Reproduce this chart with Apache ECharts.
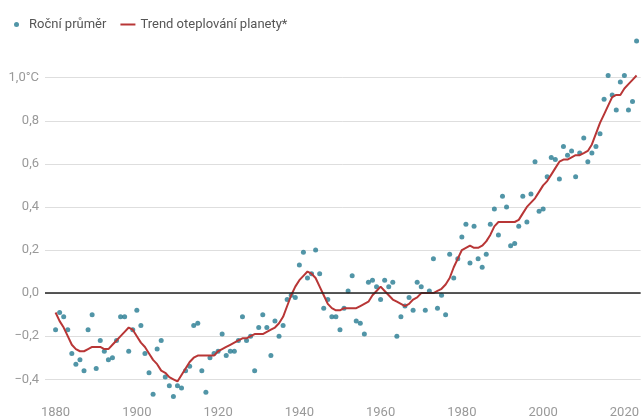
<!DOCTYPE html>
<html>
<head>
<meta charset="utf-8">
<script src="https://cdn.jsdelivr.net/npm/echarts@6/dist/echarts.min.js"></script>
<style>
  html, body { margin: 0; padding: 0; background: #fff; }
  #chart { width: 642px; height: 420px; }
</style>
</head>
<body>
<div id="chart"></div>
<script>
// years 1880..2023
const years = [];
for (let y = 1880; y <= 2023; y++) years.push(y);

// Roční průměr (annual mean anomaly, °C)
const annual = [
  -0.17, -0.09, -0.11, -0.17, -0.28, -0.33, -0.31, -0.36, -0.17, -0.10,
  -0.35, -0.22, -0.27, -0.31, -0.30, -0.22, -0.11, -0.11, -0.27, -0.17,
  -0.08, -0.15, -0.28, -0.37, -0.47, -0.26, -0.22, -0.39, -0.43, -0.48,
  -0.43, -0.44, -0.36, -0.34, -0.15, -0.14, -0.36, -0.46, -0.30, -0.28,
  -0.27, -0.19, -0.29, -0.27, -0.27, -0.22, -0.11, -0.22, -0.20, -0.36,
  -0.16, -0.10, -0.16, -0.29, -0.13, -0.20, -0.15, -0.03, -0.01, -0.02,
  0.13, 0.19, 0.07, 0.09, 0.20, 0.09, -0.07, -0.03, -0.11, -0.11,
  -0.17, -0.07, 0.01, 0.08, -0.13, -0.14, -0.19, 0.05, 0.06, 0.03,
  -0.03, 0.06, 0.03, 0.05, -0.20, -0.11, -0.06, -0.02, -0.08, 0.05,
  0.03, -0.08, 0.01, 0.16, -0.07, -0.01, -0.10, 0.18, 0.07, 0.16,
  0.26, 0.32, 0.14, 0.31, 0.16, 0.12, 0.18, 0.32, 0.39, 0.27,
  0.45, 0.40, 0.22, 0.23, 0.31, 0.45, 0.33, 0.46, 0.61, 0.38,
  0.39, 0.54, 0.63, 0.62, 0.53, 0.68, 0.64, 0.66, 0.54, 0.65,
  0.72, 0.61, 0.65, 0.68, 0.74, 0.90, 1.01, 0.92, 0.85, 0.98,
  1.01, 0.85, 0.89, 1.17
];

// Trend oteplování planety (smoothed)
const trend = [
  -0.09, -0.13, -0.16, -0.20, -0.24, -0.26, -0.27, -0.27, -0.26, -0.25,
  -0.25, -0.25, -0.26, -0.26, -0.24, -0.22, -0.20, -0.18, -0.16, -0.17,
  -0.20, -0.23, -0.25, -0.28, -0.31, -0.33, -0.36, -0.37, -0.39, -0.40,
  -0.41, -0.38, -0.35, -0.32, -0.30, -0.29, -0.29, -0.29, -0.29, -0.29,
  -0.27, -0.26, -0.25, -0.24, -0.23, -0.22, -0.21, -0.21, -0.20, -0.19,
  -0.19, -0.19, -0.18, -0.17, -0.16, -0.14, -0.11, -0.06, -0.01, 0.03,
  0.06, 0.08, 0.10, 0.09, 0.07, 0.03, -0.01, -0.05, -0.07, -0.08,
  -0.08, -0.07, -0.07, -0.07, -0.07, -0.06, -0.05, -0.04, -0.01, 0.01,
  0.03, 0.01, -0.01, -0.03, -0.04, -0.05, -0.06, -0.05, -0.03, -0.02,
  0.00, 0.00, 0.00, 0.00, 0.01, 0.02, 0.04, 0.07, 0.12, 0.16,
  0.20, 0.21, 0.22, 0.21, 0.21, 0.22, 0.24, 0.27, 0.31, 0.33,
  0.33, 0.33, 0.33, 0.33, 0.34, 0.37, 0.40, 0.42, 0.44, 0.47,
  0.50, 0.52, 0.55, 0.58, 0.61, 0.62, 0.62, 0.63, 0.64, 0.64,
  0.65, 0.66, 0.69, 0.74, 0.79, 0.83, 0.87, 0.91, 0.92, 0.92,
  0.95, 0.97, 0.99, 1.01
];

const FONT = 'Roboto';
const DOT = '#257a91';
const RED = '#b83636';

function yLabel(v) {
  if (Math.abs(v - 1) < 1e-9) return '1,0°C';
  return v.toFixed(1).replace('.', ',').replace('-', '\u2212');
}

const chart = echarts.init(document.getElementById('chart'));

chart.setOption({
  animation: false,
  textStyle: { fontFamily: FONT },

  legend: {
    left: 9,
    top: 13,
    itemWidth: 15,
    itemHeight: 5,
    itemGap: 14,
    textStyle: { fontFamily: FONT, fontSize: 13, color: '#555' },
    data: [
      { name: 'Roční průměr', icon: 'circle' },
      { name: 'Trend oteplování planety*', icon: 'path://M0,0H15V2H0Z' }
    ]
  },

  grid: { left: 45, right: 0, top: 34.6, bottom: 19.2 },

  xAxis: {
    type: 'value',
    min: 1877.4,
    max: 2024,
    minInterval: 20,
    maxInterval: 20,
    axisLine: { show: false },
    axisTick: { show: false },
    splitLine: { show: false },
    axisLabel: {
      showMinLabel: false,
      showMaxLabel: false,
      margin: 5,
      fontSize: 13,
      color: '#999',
      fontFamily: FONT,
      formatter: v => String(v)
    }
  },

  yAxis: {
    type: 'value',
    min: -0.5,
    max: 1.2,
    minInterval: 0.2,
    maxInterval: 0.2,
    axisLine: { show: false },
    axisTick: { show: false },
    splitLine: {
      show: true,
      showMinLine: false,
      showMaxLine: false,
      lineStyle: { color: '#dedede', width: 1 }
    },
    axisLabel: {
      showMinLabel: false,
      showMaxLabel: false,
      margin: 6,
      fontSize: 13,
      color: '#999',
      fontFamily: FONT,
      formatter: yLabel
    }
  },

  series: [
    {
      name: 'Roční průměr',
      type: 'scatter',
      symbolSize: 5,
      itemStyle: { color: DOT },
      data: years.map((y, i) => [y, annual[i]]),
      z: 3
    },
    {
      name: 'Trend oteplování planety*',
      type: 'line',
      symbol: 'none',
      lineStyle: { color: RED, width: 2 },
      itemStyle: { color: RED },
      data: years.map((y, i) => [y, trend[i]]),
      markLine: {
        silent: true,
        symbol: 'none',
        label: { show: false },
        lineStyle: { color: '#222', width: 1.5, type: 'solid' },
        data: [{ yAxis: 0 }]
      },
      z: 4
    }
  ]
});
</script>
</body>
</html>
